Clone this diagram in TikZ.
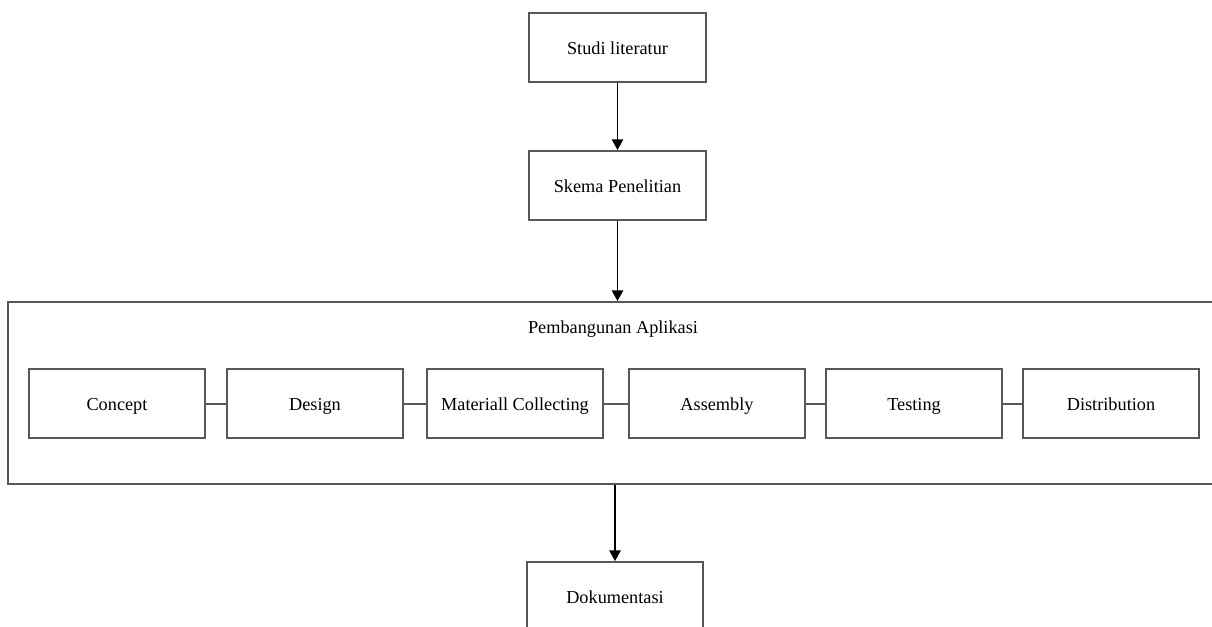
\documentclass[tikz,border=0pt]{standalone}
\usepackage{fontspec}
\setmainfont{Liberation Serif}
\usetikzlibrary{arrows.meta}
\definecolor{bd}{RGB}{88,88,88}
\tikzset{
  px/.style={x=0.75pt,y=-0.75pt},
  box/.style={draw=bd,line width=1.4pt,fill=white,minimum width={176*0.75pt},minimum height={69*0.75pt},inner sep=0pt,text height=12pt,text depth=1.7pt,font=\fontsize{13.7}{16}\selectfont},
  arr/.style={draw=black,line width=1.1pt,-{Triangle[length=8pt,width=8.5pt]}},
  link/.style={draw=bd,line width=1.5pt},
  big/.style={draw=bd,line width=1.4pt,minimum width={1206*0.75pt},minimum height={182*0.75pt},inner sep=0pt},
  lbl/.style={font=\fontsize{13.7}{16}\selectfont,inner sep=0pt}
}
\begin{document}
\begin{tikzpicture}[px]
\useasboundingbox (0,0) rectangle (1212,627);
\fill[white] (0,0) rectangle (1212,627);
\begin{scope}
\clip (0,0) rectangle (1212,627);
\node[box,minimum width={177*0.75pt}] (st) at (617.5,47.5) {Studi literatur};
\node[box,minimum width={177*0.75pt}] (sk) at (617.5,185.5) {Skema Penelitian};
\node[big] (pa) at (611,393) {};
\node[lbl] (pal) at (613,329) {Pembangunan Aplikasi};
\node[box] (c1) at (117,403.5) {Concept};
\node[box] (c2) at (315,403.5) {Design};
\node[box] (c3) at (515,403.5) {Materiall Collecting};
\node[box] (c4) at (717,403.5) {Assembly};
\node[box] (c5) at (914,403.5) {Testing};
\node[box] (c6) at (1111,403.5) {Distribution};
\node[box] (dk) at (615,596.5) {Dokumentasi};
\draw[link] (c1) -- (c2);
\draw[link] (c2) -- (c3);
\draw[link] (c3) -- (c4);
\draw[link] (c4) -- (c5);
\draw[link] (c5) -- (c6);
\draw[arr] (st.south) -- (sk.north);
\draw[arr] (sk.south) -- (sk.south |- pa.north);
\draw[arr] (dk.north |- pa.south) -- (dk.north);
\end{scope}
\end{tikzpicture}
\end{document}
